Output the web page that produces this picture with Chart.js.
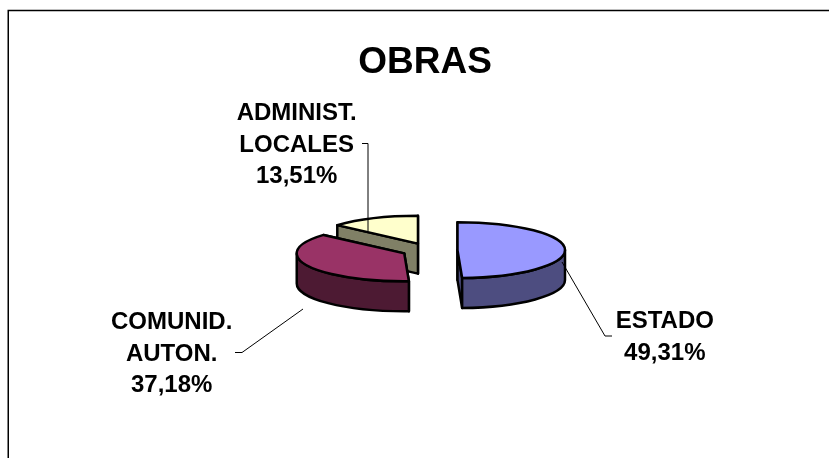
<!DOCTYPE html>
<html><head><meta charset="utf-8">
<style>html,body{margin:0;padding:0;background:#fff}canvas{display:block}</style>
<script src="https://cdn.jsdelivr.net/npm/chart.js@4/dist/chart.umd.min.js"></script>
</head><body><canvas id="c" width="829" height="458"></canvas>
<script>
const titleText = 'OBRAS';
const categories = [['ESTADO'], ['COMUNID.', 'AUTON.'], ['ADMINIST.', 'LOCALES']];
const shares = [49.31, 37.18, 13.51];
const topColors = ['#9999FF', '#993366', '#FFFFCC'];
const sideColors = ['#4D4D80', '#4D1A33', '#808066'];
const FONT = '"Liberation Sans", Arial, sans-serif';

const tilt = 0.26, depth = 30, shiftX = 4.5;
const labelAnchors = [
  {x: 664.8, y: 328, leader: [[562, 262], [605, 336], [612, 336]]},
  {x: 171.7, y: 329, leader: [[303, 309], [242, 352.5], [235, 352.5]]},
  {x: 296.7, y: 120, leader: [[362, 143.5], [368, 143.5], [368, 231]]}
];

const pie3d = {
  id: 'pie3d',
  beforeDraw(chart) {
    const ctx = chart.ctx;
    ctx.save();
    ctx.fillStyle = '#fff';
    ctx.fillRect(0, 0, chart.width, chart.height);
    ctx.strokeStyle = '#000';
    ctx.lineWidth = 1.5;
    ctx.strokeRect(8.25, 10.5, 1000, 1000);
    ctx.restore();
  },
  beforeDatasetDraw(chart, args) {
    const ctx = chart.ctx, arcs = args.meta.data;
    ctx.save();
    ctx.lineJoin = 'round';
    ctx.lineWidth = arcs[0].options.borderWidth;
    ctx.strokeStyle = arcs[0].options.borderColor;
    for (let i = arcs.length - 1; i >= 0; i--) {
      const el = arcs[i], a0 = el.startAngle, a1 = el.endAngle, r = el.outerRadius;
      const mid = (a0 + a1) / 2, off = el.options.offset;
      const cx = el.x + shiftX + Math.cos(mid) * off;
      const cy = el.y + Math.sin(mid) * off * tilt;
      const ry = r * tilt;
      const side = sideColors[i];
      const paint = (fill) => { ctx.fillStyle = fill; ctx.fill(); ctx.stroke(); };
      // cut faces, back one first
      [a0, a1].sort((p, q) => Math.sin(p) - Math.sin(q)).forEach(a => {
        const rx0 = cx + Math.cos(a) * r, ry0 = cy + Math.sin(a) * ry;
        ctx.beginPath();
        ctx.moveTo(cx, cy);
        ctx.lineTo(rx0, ry0);
        ctx.lineTo(rx0, ry0 + depth);
        ctx.lineTo(cx, cy + depth);
        ctx.closePath();
        paint(side);
      });
      // outer wall, only the part that faces the viewer
      const w0 = Math.max(a0, 0), w1 = Math.min(a1, Math.PI);
      if (w1 > w0) {
        ctx.beginPath();
        ctx.ellipse(cx, cy, r, ry, 0, w0, w1);
        ctx.ellipse(cx, cy + depth, r, ry, 0, w1, w0, true);
        ctx.closePath();
        paint(side);
      }
      // top face
      ctx.beginPath();
      ctx.moveTo(cx, cy);
      ctx.ellipse(cx, cy, r, ry, 0, a0, a1);
      ctx.closePath();
      paint(topColors[i]);
    }
    ctx.restore();
    return false;
  },
  afterDatasetsDraw(chart) {
    const ctx = chart.ctx;
    ctx.save();
    ctx.strokeStyle = '#000';
    ctx.lineWidth = 1;
    ctx.fillStyle = '#000';
    ctx.font = 'bold 24px ' + FONT;
    ctx.textAlign = 'center';
    ctx.textBaseline = 'alphabetic';
    labelAnchors.forEach((a, i) => {
      ctx.beginPath();
      a.leader.forEach((p, j) => j ? ctx.lineTo(p[0], p[1]) : ctx.moveTo(p[0], p[1]));
      ctx.stroke();
      const lines = categories[i].concat(shares[i].toFixed(2).replace('.', ',') + '%');
      lines.forEach((t, j) => ctx.fillText(t, a.x, a.y + j * 31.5));
    });
    ctx.restore();
  }
};

new Chart(document.getElementById('c'), {
  type: 'pie',
  data: {
    labels: categories.map(c => c.join(' ')),
    datasets: [{data: shares, backgroundColor: topColors, borderColor: '#000', borderWidth: 2.5, offset: 28}]
  },
  options: {
    responsive: false,
    animation: false,
    events: [],
    layout: {padding: {left: 21, right: 0, top: 0, bottom: 85}},
    plugins: {
      legend: {display: false},
      tooltip: {enabled: false},
      title: {
        display: true, text: titleText, color: '#000',
        font: {family: FONT, size: 37, weight: 'bold'},
        padding: {top: 40.3, bottom: 42.8}
      }
    }
  },
  plugins: [pie3d]
});
</script></body></html>
